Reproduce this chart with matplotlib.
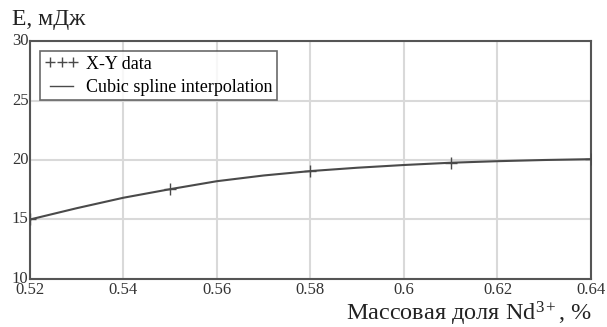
import numpy as np
import matplotlib.pyplot as plt
from matplotlib.lines import Line2D

plt.rcParams['font.family'] = ['Liberation Serif', 'DejaVu Serif']
plt.rcParams['mathtext.fontset'] = 'custom'
plt.rcParams['mathtext.rm'] = 'Liberation Serif'
plt.rcParams['mathtext.it'] = 'Liberation Serif:italic'

# measured data points
data_x = [0.52, 0.55, 0.58, 0.61, 0.64]
data_y = [15.0, 17.55, 19.07, 19.77, 20.07]

# spline curve
curve_x = [0.52, 0.53, 0.54, 0.55, 0.56, 0.57, 0.58, 0.59, 0.60, 0.61, 0.62, 0.63, 0.64]
curve_y = [15.0, 15.95, 16.83, 17.55, 18.22, 18.7, 19.07, 19.35, 19.58, 19.77, 19.9, 20.0, 20.07]

x_ticks = [0.52, 0.54, 0.56, 0.58, 0.6, 0.62, 0.64]
x_labels = ['0.52', '0.54', '0.56', '0.58', '0.6', '0.62', '0.64']
y_ticks = [10, 15, 20, 25, 30]

fig = plt.figure(figsize=(6.07, 3.27), dpi=100)
ax = fig.add_axes([0.0494, 0.1468, 0.9242, 0.7278])

ax.plot(curve_x, curve_y, color='#4a4a4a', lw=1.5, zorder=3)
ax.plot(data_x, data_y, ls='none', marker='+', ms=8, mew=1.0, color='#4a4a4a', zorder=4)

ax.set_xlim(0.52, 0.64)
ax.set_ylim(10, 30)
ax.set_xticks(x_ticks)
ax.set_xticklabels(x_labels)
ax.set_yticks(y_ticks)
ax.grid(True, color='#d9d9d9', lw=1.5)
ax.set_axisbelow(True)
ax.tick_params(length=0, labelsize=12, colors='#333333')
ax.tick_params(axis='y', pad=1)
ax.tick_params(axis='x', pad=2)
for lbl in ax.get_yticklabels():
    lbl.set_verticalalignment('center')
for s in ax.spines.values():
    s.set_color('#555555')
    s.set_linewidth(1.5)

handles = [Line2D([], [], ls='none', marker='+', ms=7, mew=1.0, color='#4a4a4a'),
           Line2D([], [], color='#4a4a4a', lw=1.0)]
leg = ax.legend(handles, ['X-Y data', 'Cubic spline interpolation'], loc='upper left',
                bbox_to_anchor=(0.018, 0.958), numpoints=3, fontsize=13, frameon=True,
                fancybox=False, handlelength=1.9, handletextpad=0.4, borderpad=0.25,
                labelspacing=0.35, borderaxespad=0, markerscale=1.0)
leg.get_frame().set_edgecolor('#444444')
leg.get_frame().set_linewidth(1.2)

fig.text(0.02, 0.94, 'E, мДж', fontsize=17, color='#222222', va='center', ha='left')
fig.text(0.975, 0.021, 'Массовая доля Nd$^{3+}$, %', fontsize=17.5, color='#222222',
         va='baseline', ha='right')

fig.savefig('out.png', dpi=100)
